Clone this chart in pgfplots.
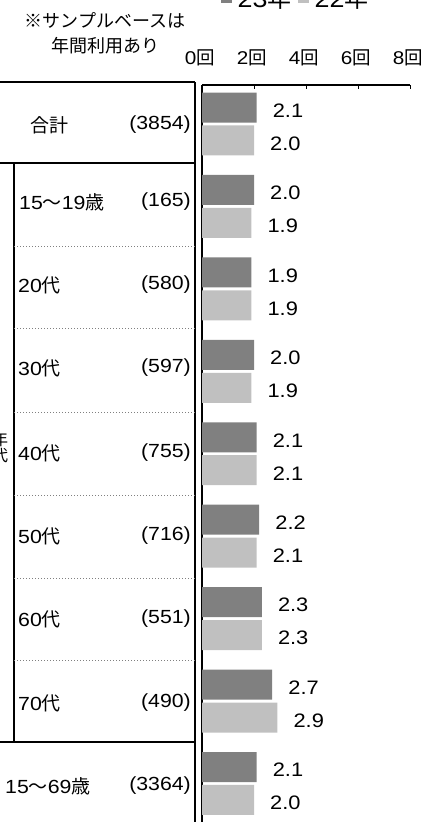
\documentclass[border=0pt]{standalone}
\usepackage{fontspec}
\setmainfont[FakeStretch=1.12]{Liberation Sans}
\newfontfamily\cjk{Noto Sans CJK JP}
\usepackage{pgfplots}
\pgfplotsset{compat=1.18}
\definecolor{dk}{HTML}{808080}
\definecolor{lt}{HTML}{C0C0C0}
\begin{document}
\begin{tikzpicture}[x=1pt,y=1pt]
\useasboundingbox (0,0) rectangle (426,-822);
\clip (0,0) rectangle (426,-822);
% table
\begin{scope}[line width=1.8pt]
\draw (0,-82) -- (195,-82);
\draw (195,-82) -- (195,-830);
\draw (0,-163) -- (195,-163);
\draw (14,-163) -- (14,-742);
\draw (0,-742) -- (195,-742);
\end{scope}
\foreach \yy in {246,328,412,495,578,660}{
  \draw[gray, dotted, line width=1pt] (14,-\yy) -- (195,-\yy);
}
\begin{scope}[every node/.style={font=\fontsize{19}{20}\selectfont, inner sep=0pt}]
\node[anchor=west] at (30,-125) {\cjk 合計};
\node[anchor=east] at (191,-125) {(3854)};
\node[anchor=west] at (19,-202) {15{\cjk 〜}19{\cjk 歳}};
\node[anchor=east] at (191,-202) {(165)};
\node[anchor=west] at (18,-285) {20{\cjk 代}};
\node[anchor=east] at (191,-285) {(580)};
\node[anchor=west] at (18,-368) {30{\cjk 代}};
\node[anchor=east] at (191,-368) {(597)};
\node[anchor=west] at (18,-453) {40{\cjk 代}};
\node[anchor=east] at (191,-453) {(755)};
\node[anchor=west] at (18,-536) {50{\cjk 代}};
\node[anchor=east] at (191,-536) {(716)};
\node[anchor=west] at (18,-619) {60{\cjk 代}};
\node[anchor=east] at (191,-619) {(551)};
\node[anchor=west] at (18,-703) {70{\cjk 代}};
\node[anchor=east] at (191,-703) {(490)};
\node[anchor=west] at (5,-786) {15{\cjk 〜}69{\cjk 歳}};
\node[anchor=east] at (191,-786) {(3364)};
\node[align=center, font=\fontsize{16}{16}\selectfont\cjk] at (0,-447) {年\\代};
\node[font=\fontsize{18}{20}\selectfont] at (105,-20) {\cjk ※サンプルベースは};
\node[font=\fontsize{18}{20}\selectfont] at (105,-46) {\cjk 年間利用あり};
\end{scope}
\begin{axis}[
  at={(202pt,-85pt)}, anchor=north west,
  scale only axis, width=208pt, height=739.7pt,
  xmin=0, xmax=8, ymin=-0.473, ymax=8.5,
  y dir=reverse,
  xbar, bar width=30pt, bar shift=0pt,
  axis x line*=top, axis y line*=left,
  x axis line style={-, line width=1.2pt},
  y axis line style={-, line width=2.4pt},
  xtick={0,2,4,6,8},
  xticklabels={0{\cjk 回},2{\cjk 回},4{\cjk 回},6{\cjk 回},8{\cjk 回}},
  ytick=\empty,
  tick align=inside, major tick length=4pt,
  tick style={black, line width=1pt},
  xticklabel style={font=\fontsize{18.5}{20}\selectfont, xshift=-2pt, yshift=16pt},
  point meta=x,
  nodes near coords={\pgfmathprintnumber[fixed,fixed zerofill,precision=1,assume math mode=true]{\pgfplotspointmeta}},
  every node near coord/.append style={font=\fontsize{19.5}{20}\selectfont, anchor=west, inner sep=0pt, xshift=16pt, yshift=-3pt, black},
  legend columns=2,
  legend style={at={(axis description cs:0.45,1.118)}, anchor=center, draw=none, fill=none,
    font=\fontsize{24}{26}\selectfont, column sep=4pt},
  legend image code/.code={\fill[#1,draw=none] (0pt,-5pt) rectangle (11pt,6pt);},
]
\addplot[fill=dk, draw=none] coordinates {
(2.1,-0.2) (2.0,0.8) (1.9,1.8) (2.0,2.8) (2.1,3.8) (2.2,4.8) (2.3,5.8) (2.7,6.8) (2.1,7.8)};
\addplot[fill=lt, draw=none] coordinates {
(2.0,0.2) (1.9,1.2) (1.9,2.2) (1.9,3.2) (2.1,4.2) (2.1,5.2) (2.3,6.2) (2.9,7.2) (2.0,8.2)};
\legend{23{\cjk 年},22{\cjk 年}}
\end{axis}
\end{tikzpicture}
\end{document}
